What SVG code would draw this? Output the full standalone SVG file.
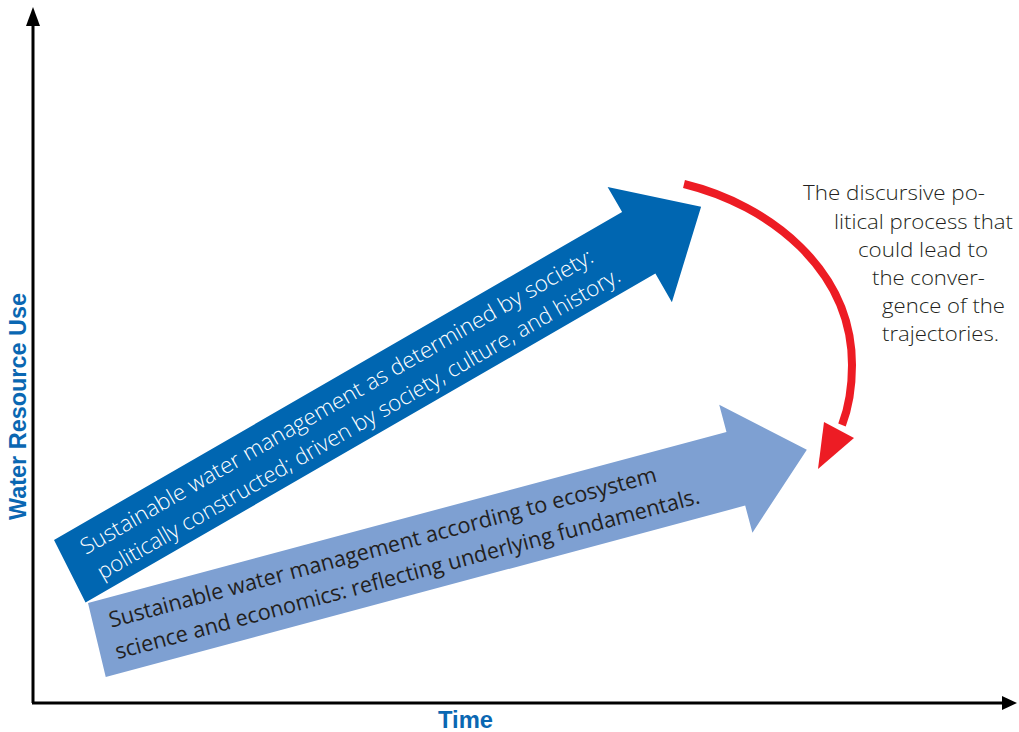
<svg xmlns="http://www.w3.org/2000/svg" width="1019" height="732" viewBox="0 0 1019 732">
<style>
.axis{stroke:#000;stroke-width:3;fill:none}
.axlabel{font-family:"Liberation Sans","Open Sans",sans-serif;font-weight:bold;fill:#0a67b2;font-size:23px}
.wtxt{font-family:"Open Sans","Noto Sans",sans-serif;font-weight:300;fill:#ffffff;font-size:22px}
.dtxt{font-family:"Open Sans","Noto Sans",sans-serif;font-weight:400;fill:#231f20;font-size:22px}
.note{font-family:"Open Sans","Noto Sans",sans-serif;font-weight:300;fill:#231f20;font-size:20.5px}
</style>
<rect width="1019" height="732" fill="#fff"/>
<g id="axes">
<line class="axis" x1="33" y1="703" x2="33" y2="22"/>
<polygon points="33,7 26,26 40,26" fill="#000"/>
<line class="axis" x1="32" y1="703" x2="1004" y2="703"/>
<polygon points="1017,703 1002,696 1002,710" fill="#000"/>
<text class="axlabel" transform="translate(26,520) rotate(-90)" textLength="227" lengthAdjust="spacingAndGlyphs">Water Resource Use</text>
<text class="axlabel" x="438" y="728" textLength="55" lengthAdjust="spacingAndGlyphs">Time</text>
</g>
<g id="society-arrow" transform="translate(54,540) rotate(-30)">
<polygon points="0,0 656,0 656,-29 727,35 654,103 654,70 -4,70" fill="#0066b1"/>
<text class="wtxt" x="20" y="29" textLength="588" lengthAdjust="spacingAndGlyphs">Sustainable water management as determined by society:</text>
<text class="wtxt" x="22" y="59" textLength="600" lengthAdjust="spacingAndGlyphs">politically constructed; driven by society, culture, and history.</text>
</g>
<g id="science-arrow" transform="translate(88,603) rotate(-15)">
<polygon points="0,0 661,0 661,-28 734,38 660,104 660,76 -2,76" fill="#7ea0d2"/>
<text class="dtxt" x="16" y="30" textLength="566" lengthAdjust="spacingAndGlyphs">Sustainable water management according to ecosystem</text>
<text class="dtxt" x="14" y="62" textLength="604" lengthAdjust="spacingAndGlyphs">science and economics: reflecting underlying fundamentals.</text>
</g>
<g id="connectors">
<path d="M684,184 C770,205 852,270 852,365 C852,395 847,412 842,425" fill="none" stroke="#ed1c24" stroke-width="8"/>
<polygon points="818,469 824,422 854,438" fill="#ed1c24"/>
</g>
<g id="process-note">
<text class="note" x="803" y="200" textLength="182" lengthAdjust="spacingAndGlyphs">The discursive po-</text>
<text class="note" x="834" y="229" textLength="179" lengthAdjust="spacingAndGlyphs">litical process that</text>
<text class="note" x="858" y="257" textLength="130" lengthAdjust="spacingAndGlyphs">could lead to</text>
<text class="note" x="872" y="285" textLength="113" lengthAdjust="spacingAndGlyphs">the conver-</text>
<text class="note" x="882" y="313" textLength="123" lengthAdjust="spacingAndGlyphs">gence of the</text>
<text class="note" x="882" y="341" textLength="117" lengthAdjust="spacingAndGlyphs">trajectories.</text>
</g>
</svg>
